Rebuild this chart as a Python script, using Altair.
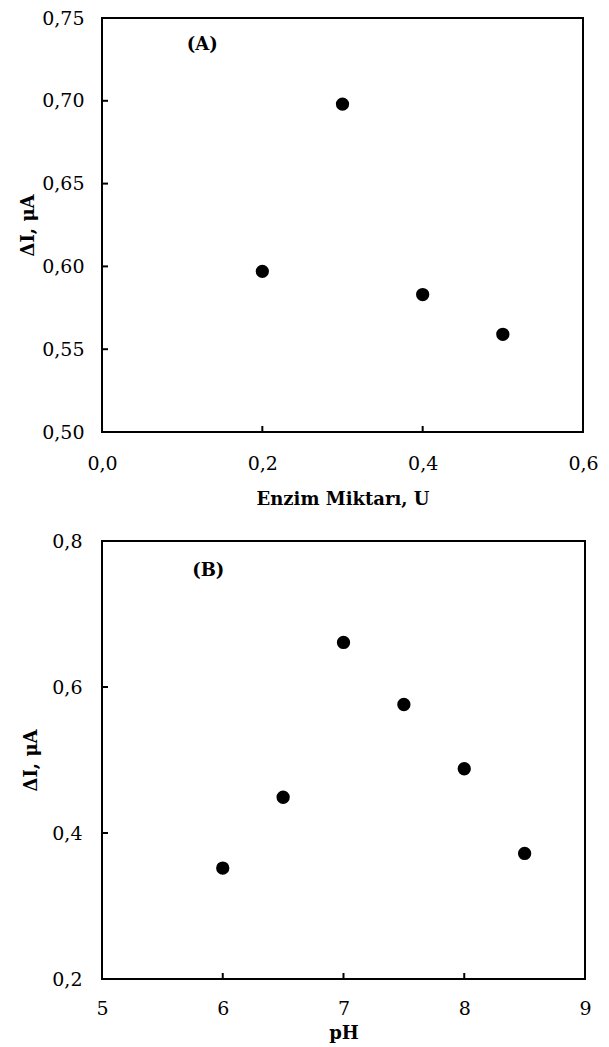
import altair as alt
import pandas as pd

# Panel A: enzyme amount vs current change
enzyme_U = [0.2, 0.3, 0.4, 0.5]
dI_A = [0.597, 0.698, 0.583, 0.559]

# Panel B: pH vs current change
pH_values = [6.0, 6.5, 7.0, 7.5, 8.0, 8.5]
dI_B = [0.352, 0.449, 0.661, 0.576, 0.488, 0.372]

xA_ticks = [0.0, 0.2, 0.4, 0.6]
yA_ticks = [0.50, 0.55, 0.60, 0.65, 0.70, 0.75]
xB_ticks = [5, 6, 7, 8, 9]
yB_ticks = [0.2, 0.4, 0.6, 0.8]

FONT = "DejaVu Serif"


def comma(fmt):
    return "replace(format(datum.value, '%s'), '.', ',')" % fmt


def panel(df, xfield, yfield, xdom, ydom, xticks, yticks, xfmt, yfmt, xtitle,
          label, lx, ly, w, h, ylabpad, ytitlepad, xlabpad, xtitlepad):
    xs = alt.Scale(domain=xdom, nice=False, zero=False)
    ys = alt.Scale(domain=ydom, nice=False, zero=False)
    xaxis = alt.Axis(values=xticks, labelExpr=comma(xfmt), ticks=False, tickSize=0,
                     domain=False, grid=False, labelPadding=xlabpad,
                     labelFlush=False,
                     labelFont=FONT, labelFontSize=19, labelColor="black",
                     title=xtitle, titleFont=FONT, titleFontSize=18,
                     titleFontWeight="bold", titleColor="black",
                     titlePadding=xtitlepad)
    yaxis = alt.Axis(values=yticks, labelExpr=comma(yfmt), ticks=False, tickSize=0,
                     domain=False, grid=False, labelPadding=ylabpad,
                     labelFlush=False,
                     labelFont=FONT, labelFontSize=19, labelColor="black",
                     title="ΔI, μA", titleFont=FONT, titleFontSize=18,
                     titleFontWeight="bold", titleColor="black",
                     titlePadding=ytitlepad)
    pts = alt.Chart(df).mark_circle(size=177, color="black", opacity=1).encode(
        x=alt.X(xfield, type="quantitative", scale=xs, axis=xaxis),
        y=alt.Y(yfield, type="quantitative", scale=ys, axis=yaxis),
    )
    # inward tick marks along the left and bottom frame, placed by the scales
    yt = alt.Chart(pd.DataFrame({"v": yticks})).mark_tick(
        orient="horizontal", size=6, thickness=2, color="black", opacity=1
    ).encode(y=alt.Y("v:Q", scale=ys, axis=yaxis), x=alt.value(3))
    xt = alt.Chart(pd.DataFrame({"v": xticks})).mark_tick(
        orient="vertical", size=6, thickness=2, color="black", opacity=1
    ).encode(x=alt.X("v:Q", scale=xs, axis=xaxis), y=alt.value(h - 3))
    lab = alt.Chart(pd.DataFrame({"x": [lx], "y": [ly], "t": [label]})).mark_text(
        font=FONT, fontSize=18, fontWeight="bold", color="black"
    ).encode(
        x=alt.X("x:Q", scale=xs, axis=xaxis),
        y=alt.Y("y:Q", scale=ys, axis=yaxis),
        text="t:N",
    )
    return alt.layer(pts, yt, xt, lab).properties(width=w, height=h)


dfA = pd.DataFrame({"enzim": enzyme_U, "dI": dI_A})
dfB = pd.DataFrame({"pH": pH_values, "dI": dI_B})

chartA = panel(dfA, "enzim", "dI", [0.0, 0.6], [0.50, 0.75], xA_ticks, yA_ticks,
               ".1f", ".2f", "Enzim Miktarı, U", "(A)", 0.125, 0.7337,
               481, 414, 18, 4, 22, 17)
chartB = panel(dfB, "pH", "dI", [5, 9], [0.2, 0.8], xB_ticks, yB_ticks,
               "d", ".1f", "pH", "(B)", 5.88, 0.759,
               483, 438, 20, 11, 20, 6)

chart = alt.concat(chartA, chartB, columns=1, spacing=22).properties(
    padding={"left": 10, "top": 0, "right": 0, "bottom": 0}
).configure_view(stroke="black", strokeWidth=2)

chart.save("out.html", embed_options={"renderer": "svg", "actions": False})
